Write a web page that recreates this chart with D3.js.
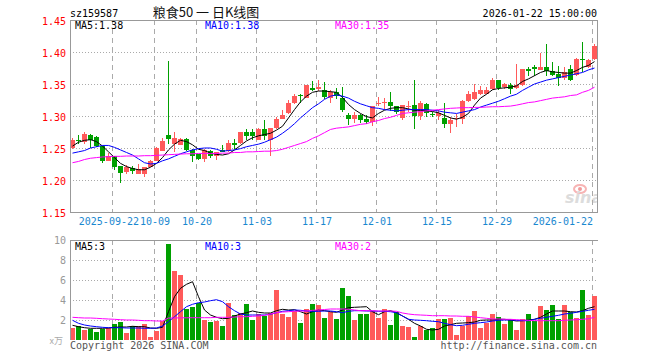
<!DOCTYPE html>
<html>
<head>
<meta charset="utf-8">
<script src="https://cdn.jsdelivr.net/npm/d3@7"></script>
<style>
body { margin: 0; background: #fff; }
svg { display: block; }
text { font-family: 'DejaVu Sans Mono', 'Liberation Mono', monospace; font-size: 10px; }
</style>
</head>
<body>
<svg id="chart" width="660" height="360"></svg>
<script>
var dates = [
	'2025-09-11','2025-09-12','2025-09-15','2025-09-16','2025-09-17','2025-09-18','2025-09-19',
	'2025-09-22','2025-09-23','2025-09-24','2025-09-25','2025-09-26','2025-09-29','2025-09-30',
	'2025-10-09','2025-10-10','2025-10-13','2025-10-14','2025-10-15','2025-10-16','2025-10-17',
	'2025-10-20','2025-10-21','2025-10-22','2025-10-23','2025-10-24',
	'2025-10-27','2025-10-28','2025-10-29','2025-10-30','2025-10-31',
	'2025-11-03','2025-11-04','2025-11-05','2025-11-06','2025-11-07',
	'2025-11-10','2025-11-11','2025-11-12','2025-11-13','2025-11-14',
	'2025-11-17','2025-11-18','2025-11-19','2025-11-20','2025-11-21',
	'2025-11-24','2025-11-25','2025-11-26','2025-11-27','2025-11-28',
	'2025-12-01','2025-12-02','2025-12-03','2025-12-04','2025-12-05',
	'2025-12-08','2025-12-09','2025-12-10','2025-12-11','2025-12-12',
	'2025-12-15','2025-12-16','2025-12-17','2025-12-18','2025-12-19',
	'2025-12-22','2025-12-23','2025-12-24','2025-12-25','2025-12-26',
	'2025-12-29','2025-12-30','2025-12-31',
	'2026-01-05','2026-01-06','2026-01-07','2026-01-08','2026-01-09',
	'2026-01-12','2026-01-13','2026-01-14','2026-01-15','2026-01-16',
	'2026-01-19','2026-01-20','2026-01-21','2026-01-22'
];

var opens = [
	1.250,1.263,1.259,1.271,1.267,1.253,1.230,1.238,1.222,1.212,1.218,1.209,1.209,1.221,1.230,1.245,1.270,1.257,1.255,1.264,
	1.247,1.240,1.233,1.245,1.237,1.247,1.245,1.258,1.258,1.275,1.275,1.263,1.279,1.263,1.281,1.296,1.304,1.320,1.333,1.328,
	1.344,1.342,1.341,1.328,1.337,1.328,1.302,1.296,1.302,1.295,1.291,1.318,1.321,1.322,1.315,1.297,1.315,1.317,1.300,1.319,
	1.303,1.300,1.297,1.287,1.295,1.296,1.323,1.327,1.334,1.335,1.342,1.356,1.346,1.348,1.343,1.348,1.373,1.377,1.372,1.377,
	1.371,1.365,1.359,1.373,1.364,1.389,1.376,1.389
];
var highs = [
	1.266,1.270,1.275,1.272,1.268,1.253,1.242,1.238,1.222,1.223,1.222,1.225,1.221,1.231,1.251,1.266,1.386,1.275,1.265,1.265,
	1.249,1.240,1.248,1.247,1.244,1.255,1.262,1.264,1.275,1.280,1.279,1.281,1.294,1.281,1.298,1.309,1.325,1.335,1.335,1.348,
	1.354,1.357,1.353,1.341,1.343,1.346,1.305,1.306,1.303,1.302,1.315,1.329,1.328,1.337,1.316,1.317,1.323,1.356,1.323,1.321,
	1.307,1.310,1.321,1.298,1.303,1.325,1.339,1.350,1.347,1.345,1.360,1.356,1.351,1.351,1.381,1.373,1.377,1.380,1.399,1.413,
	1.384,1.378,1.377,1.380,1.390,1.416,1.389,1.413
];
var lows = [
	1.248,1.256,1.257,1.250,1.251,1.226,1.229,1.216,1.195,1.210,1.209,1.209,1.205,1.220,1.230,1.245,1.256,1.244,1.254,1.245,
	1.228,1.232,1.228,1.234,1.232,1.243,1.244,1.248,1.256,1.263,1.262,1.263,1.263,1.237,1.280,1.295,1.303,1.319,1.320,1.328,
	1.339,1.339,1.327,1.321,1.327,1.307,1.286,1.289,1.289,1.287,1.284,1.316,1.310,1.308,1.303,1.293,1.307,1.279,1.293,1.298,
	1.298,1.294,1.282,1.274,1.283,1.288,1.322,1.325,1.333,1.335,1.341,1.341,1.342,1.334,1.342,1.347,1.363,1.363,1.372,1.363,
	1.363,1.347,1.357,1.355,1.363,1.369,1.375,1.388
];
var closes = [
	1.262,1.262,1.272,1.263,1.253,1.230,1.238,1.221,1.211,1.221,1.214,1.217,1.221,1.230,1.250,1.261,1.264,1.266,1.264,1.247,
	1.237,1.233,1.247,1.237,1.243,1.244,1.258,1.255,1.275,1.268,1.268,1.280,1.268,1.281,1.295,1.302,1.320,1.331,1.331,1.348,
	1.341,1.346,1.330,1.337,1.331,1.309,1.295,1.302,1.293,1.291,1.315,1.321,1.322,1.315,1.307,1.317,1.316,1.300,1.321,1.304,
	1.301,1.304,1.287,1.294,1.297,1.324,1.334,1.337,1.341,1.341,1.357,1.343,1.350,1.342,1.348,1.373,1.370,1.373,1.376,1.371,
	1.364,1.360,1.368,1.356,1.389,1.387,1.388,1.410
];

var ma5 = [
	1.253,1.259,1.262,1.263,1.260,1.253,1.244,1.235,1.226,1.221,1.218,1.216,1.216,1.220,1.226,1.235,1.247,1.256,1.262,1.260,
	1.255,1.248,1.246,1.242,1.240,1.239,1.241,1.247,1.254,1.261,1.266,1.269,1.271,1.273,1.278,1.284,1.297,1.310,1.322,1.331,
	1.337,1.339,1.339,1.338,1.337,1.329,1.318,1.310,1.304,1.299,1.297,1.304,1.309,1.312,1.313,1.313,1.311,1.309,1.309,1.308,
	1.307,1.305,1.301,1.297,1.295,1.298,1.304,1.317,1.328,1.334,1.341,1.343,1.344,1.345,1.347,1.354,1.358,1.363,1.368,1.371,
	1.369,1.368,1.367,1.367,1.371,1.376,1.379,1.385
];
var ma10 = [
	1.242,1.244,1.246,1.250,1.252,1.254,1.254,1.251,1.247,1.243,1.239,1.233,1.227,1.225,1.226,1.230,1.233,1.237,1.241,1.244,
	1.247,1.249,1.250,1.250,1.248,1.245,1.246,1.247,1.249,1.252,1.254,1.256,1.259,1.263,1.267,1.273,1.280,1.288,1.297,1.305,
	1.313,1.319,1.326,1.331,1.333,1.331,1.328,1.323,1.319,1.316,1.313,1.312,1.310,1.309,1.308,1.309,1.310,1.310,1.310,1.310,
	1.309,1.308,1.306,1.305,1.304,1.306,1.308,1.310,1.314,1.317,1.320,1.323,1.327,1.331,1.334,1.340,1.345,1.350,1.353,1.356,
	1.358,1.360,1.362,1.364,1.366,1.368,1.372,1.375
];
var ma30 = [
	1.227,1.229,1.232,1.234,1.235,1.236,1.2365,1.237,1.237,1.2375,1.2375,1.2375,1.238,1.238,1.2385,1.239,1.2395,1.240,1.2405,1.241,
	1.241,1.2415,1.2415,1.2415,1.2415,1.242,1.242,1.243,1.243,1.244,1.244,1.2445,1.245,1.245,1.246,1.248,1.251,1.254,1.257,1.260,
	1.265,1.269,1.274,1.279,1.281,1.282,1.283,1.285,1.287,1.288,1.291,1.293,1.296,1.298,1.301,1.304,1.305,1.306,1.307,1.308,
	1.309,1.310,1.311,1.312,1.3125,1.313,1.313,1.3135,1.3135,1.314,1.3145,1.3145,1.315,1.3155,1.317,1.319,1.321,1.322,1.324,1.326,
	1.328,1.329,1.330,1.332,1.333,1.337,1.340,1.345
];

var volumes = [
	1.20,1.43,1.00,1.07,0.80,1.07,1.17,1.60,1.83,0.70,1.40,1.40,1.60,0.33,0.93,1.90,9.60,6.93,6.53,3.13,
	3.30,3.73,2.00,1.83,1.93,1.40,3.73,2.50,2.73,3.63,2.03,2.60,2.43,2.73,5.00,2.60,2.30,2.90,1.73,3.10,
	3.63,3.50,2.23,2.77,2.13,5.23,4.43,2.00,2.63,2.63,2.93,2.23,3.10,1.50,2.77,1.40,1.30,0.33,1.40,1.03,
	1.20,2.10,2.10,2.23,0.53,1.43,2.40,2.93,1.23,1.70,2.63,2.30,1.63,2.00,1.03,2.13,2.63,1.90,3.43,3.03,
	3.50,2.13,3.50,2.83,2.23,5.03,2.50,4.43
];
var volMa5 = [
	1.47,1.33,1.23,1.17,1.17,1.17,1.20,1.27,1.30,1.30,1.37,1.33,1.33,1.20,1.17,1.27,2.83,4.33,5.17,5.57,
	5.83,4.33,3.00,2.50,2.27,2.13,2.17,2.40,2.60,2.73,2.90,2.77,2.70,2.70,2.93,3.07,3.00,3.03,2.83,2.60,
	2.83,3.00,2.93,2.83,2.77,3.00,3.23,3.27,3.30,3.33,2.83,2.53,2.83,2.93,2.73,2.40,2.07,1.67,1.40,1.07,
	1.00,1.07,1.40,1.53,1.67,1.70,1.73,1.80,1.97,2.00,2.00,2.07,2.07,2.00,1.90,1.93,2.00,2.07,2.27,2.60,
	2.90,2.90,2.90,2.83,2.80,2.93,3.17,3.33
];
var volMa10 = [
	1.97,1.67,1.50,1.40,1.33,1.27,1.23,1.23,1.23,1.20,1.20,1.20,1.17,1.17,1.20,1.40,1.83,2.33,2.83,3.33,
	3.57,3.73,3.80,3.93,4.03,3.83,3.33,2.93,2.60,2.50,2.50,2.50,2.50,2.57,2.73,2.87,2.93,3.00,2.97,2.90,
	2.87,2.87,2.90,2.90,2.83,2.73,2.87,2.93,2.93,2.90,2.90,2.87,2.87,2.83,2.73,2.40,2.07,2.00,1.97,1.93,
	1.87,1.83,1.67,1.53,1.43,1.47,1.57,1.67,1.73,1.80,1.90,1.97,2.00,2.00,1.97,1.93,1.93,2.07,2.17,2.27,
	2.37,2.47,2.60,2.67,2.77,2.87,2.97,3.07
];
var volMa30 = [
	2.27,2.23,2.20,2.20,2.17,2.13,2.10,2.07,2.03,2.00,2.00,1.97,1.93,1.93,1.90,1.90,2.20,2.20,2.22,2.22,
	2.23,2.23,2.23,2.23,2.27,2.27,2.27,2.30,2.33,2.33,2.37,2.40,2.47,2.60,2.73,2.80,2.83,2.87,2.90,2.90,
	2.97,3.00,3.05,3.10,3.10,3.10,3.07,3.00,2.93,2.93,2.93,2.90,2.90,2.90,2.87,2.70,2.60,2.53,2.50,2.47,
	2.43,2.43,2.43,2.40,2.40,2.37,2.37,2.30,2.23,2.17,2.10,2.10,2.07,2.07,2.03,2.00,1.97,1.93,1.93,1.93,
	1.93,1.93,1.97,2.00,2.03,2.07,2.13,2.27
];

var tickDates = ['2025-09-22','2025-10-09','2025-10-20','2025-11-03','2025-11-17','2025-12-01','2025-12-15','2025-12-29','2026-01-22'];
var tickLabels = ['2025-09-22','10-09','10-20','11-03','11-17','12-01','12-15','12-29','2026-01-22'];
var priceTicks = [1.15, 1.20, 1.25, 1.30, 1.35, 1.40, 1.45];
var volTicks = [2, 4, 6, 8, 10];
var priceMaLabels = ['MA5:1.38', 'MA10:1.38', 'MA30:1.35'];
var volMaLabels = ['MA5:3', 'MA10:3', 'MA30:2'];

var RED = '#ff5a5a',
	GREEN = '#00a000',
	GRID = '#aaaaaa',
	FRAME = '#999999',
	maColors = ['#000000', '#0000ff', '#ff00ff'];

var left = 70, right = 597,
	pTop = 20, pBottom = 212,
	vTop = 240, vBottom = 340;

var svg = d3.select('#chart');

var x = d3.scaleBand().domain(dates).range([left, 598]).padding(0);
var py = d3.scaleLinear().domain([1.15, 1.45]).range([pBottom, pTop]);
var vy = d3.scaleLinear().domain([0, 10]).range([vBottom, vTop]);

var isUp = function(i) {
	return closes[i] >= opens[i];
};

svg.append('rect').attr('width', 660).attr('height', 360).attr('fill', '#fff');

// clip for watermark / lines
var defs = svg.append('defs');
defs.append('clipPath').attr('id', 'clipP')
	.append('rect').attr('x', left).attr('y', pTop).attr('width', right - left).attr('height', pBottom - pTop);
defs.append('clipPath').attr('id', 'clipV')
	.append('rect').attr('x', left).attr('y', vTop).attr('width', right - left).attr('height', vBottom - vTop);

// watermark
var wm = svg.append('g').attr('clip-path', 'url(#clipP)');
wm.append('ellipse').attr('cx', 580).attr('cy', 189).attr('rx', 6).attr('ry', 4)
	.attr('fill', 'none').attr('stroke', '#f7b4b4').attr('stroke-width', 2);
wm.append('circle').attr('cx', 580).attr('cy', 189).attr('r', 2).attr('fill', '#f29a9a');
wm.append('text').attr('x', 565).attr('y', 203)
	.style('font-family', 'DejaVu Sans').style('font-size', '16px')
	.style('font-style', 'italic').style('font-weight', 'bold')
	.attr('fill', '#dcdcdc').text('sina');

// horizontal grid
var grid = svg.append('g').attr('shape-rendering', 'crispEdges');
grid.selectAll('.hp').data(priceTicks.slice(1, -1)).enter().append('line')
	.attr('x1', left).attr('x2', right)
	.attr('y1', function(d) { return Math.round(py(d)) + 0.5; })
	.attr('y2', function(d) { return Math.round(py(d)) + 0.5; })
	.attr('stroke', GRID).attr('stroke-dasharray', '1,2');
grid.selectAll('.hv').data(volTicks.slice(0, -1)).enter().append('line')
	.attr('x1', left).attr('x2', right)
	.attr('y1', function(d) { return Math.round(vy(d)) + 0.5; })
	.attr('y2', function(d) { return Math.round(vy(d)) + 0.5; })
	.attr('stroke', GRID).attr('stroke-dasharray', '1,2');

// vertical dashed grid, both panels
[[pTop, pBottom], [vTop, vBottom]].forEach(function(span) {
	grid.selectAll(null).data(tickDates).enter().append('line')
		.attr('x1', function(d) { return Math.round(x(d)) + 0.5; })
		.attr('x2', function(d) { return Math.round(x(d)) + 0.5; })
		.attr('y1', span[0]).attr('y2', span[1])
		.attr('stroke', GRID).attr('stroke-dasharray', '5,4');
});

// candles
var candles = svg.append('g').attr('shape-rendering', 'crispEdges');
var idx = d3.range(dates.length);
candles.selectAll('.wick').data(idx).enter().append('rect')
	.attr('x', function(i) { return Math.round(x(dates[i])) + 2; })
	.attr('y', function(i) { return Math.round(py(highs[i])); })
	.attr('width', 1)
	.attr('height', function(i) { return Math.max(1, Math.round(py(lows[i])) - Math.round(py(highs[i]))); })
	.attr('fill', function(i) { return isUp(i) ? RED : GREEN; });
candles.selectAll('.body').data(idx).enter().append('rect')
	.attr('x', function(i) { return Math.round(x(dates[i])); })
	.attr('y', function(i) { return Math.round(py(Math.max(opens[i], closes[i]))); })
	.attr('width', x.bandwidth() - 1)
	.attr('height', function(i) {
		var h = Math.round(py(Math.min(opens[i], closes[i]))) - Math.round(py(Math.max(opens[i], closes[i])));
		return Math.max(1, h);
	})
	.attr('fill', function(i) { return isUp(i) ? RED : GREEN; });

// volume bars
var vols = svg.append('g').attr('shape-rendering', 'crispEdges');
vols.selectAll('rect').data(idx).enter().append('rect')
	.attr('x', function(i) { return Math.round(x(dates[i])); })
	.attr('y', function(i) { return Math.round(vy(volumes[i])); })
	.attr('width', x.bandwidth() - 1)
	.attr('height', function(i) { return vBottom - Math.round(vy(volumes[i])); })
	.attr('fill', function(i) { return isUp(i) ? RED : GREEN; });

// moving averages
var drawLine = function(series, scale, color, clip) {
	var line = d3.line()
		.x(function(d, i) { return x(dates[i]) + 2.5; })
		.y(function(d) { return scale(d); });
	svg.append('path').datum(series)
		.attr('clip-path', clip)
		.attr('d', line)
		.attr('fill', 'none')
		.attr('stroke', color)
		.attr('stroke-width', 1);
};
[ma5, ma10, ma30].forEach(function(s, k) { drawLine(s, py, maColors[k], 'url(#clipP)'); });
[volMa5, volMa10, volMa30].forEach(function(s, k) { drawLine(s, vy, maColors[k], 'url(#clipV)'); });

// frames
var frame = svg.append('g').attr('shape-rendering', 'crispEdges')
	.attr('stroke', FRAME).attr('fill', 'none');
frame.append('rect').attr('x', left + 0.5).attr('y', pTop + 0.5)
	.attr('width', right - left).attr('height', pBottom - pTop);
frame.append('line').attr('x1', left).attr('x2', right + 1).attr('y1', vTop + 0.5).attr('y2', vTop + 0.5);
frame.append('line').attr('x1', left + 0.5).attr('x2', left + 0.5).attr('y1', vTop).attr('y2', vBottom);

// axis labels
svg.selectAll('.pl').data(priceTicks).enter().append('text')
	.attr('x', 66).attr('y', function(d) { return py(d) + 5; })
	.attr('text-anchor', 'end').attr('fill', '#ff0000')
	.text(function(d) { return d.toFixed(2); });
svg.selectAll('.vl').data(volTicks).enter().append('text')
	.attr('x', 66).attr('y', function(d) { return vy(d) + 4; })
	.attr('text-anchor', 'end').attr('fill', '#999')
	.text(function(d) { return d; });
svg.append('text').attr('x', 63).attr('y', 344).attr('text-anchor', 'end')
	.style('font-family', "'Noto Sans CJK SC', sans-serif").style('font-size', '9px')
	.attr('fill', '#aaa').text('x万');

// first label ends just before the next one, last one ends at its grid line
svg.selectAll('.dl').data(tickDates).enter().append('text')
	.attr('x', function(d, i) { return i === 0 ? 139 : Math.round(x(d)) + 1; })
	.attr('y', 225)
	.attr('text-anchor', function(d, i) {
		if (i === 0 || i === tickDates.length - 1) return 'end';
		return 'middle';
	})
	.attr('fill', '#1a88d0')
	.text(function(d, i) { return tickLabels[i]; });

// legends
var legendX = [75, 205, 335];
priceMaLabels.forEach(function(t, k) {
	svg.append('text').attr('x', legendX[k]).attr('y', 29).attr('fill', maColors[k]).text(t);
});
volMaLabels.forEach(function(t, k) {
	svg.append('text').attr('x', legendX[k]).attr('y', 250).attr('fill', maColors[k]).text(t);
});

// header / footer
svg.append('text').attr('x', 70).attr('y', 17).attr('fill', '#000').text('sz159587');
svg.append('text').attr('x', 206).attr('y', 17).attr('text-anchor', 'middle')
	.style('font-family', "'Noto Sans CJK SC', sans-serif").style('font-size', '13px')
	.attr('fill', '#111').text('粮食50 一 日K线图');
svg.append('text').attr('x', 597).attr('y', 17).attr('text-anchor', 'end')
	.attr('fill', '#000').text('2026-01-22 15:00:00');
svg.append('text').attr('x', 70).attr('y', 349).attr('fill', '#555').text('Copyright 2026 SINA.COM');
svg.append('text').attr('x', 597).attr('y', 349).attr('text-anchor', 'end')
	.attr('fill', '#555').text('http://finance.sina.com.cn');
</script>
</body>
</html>
